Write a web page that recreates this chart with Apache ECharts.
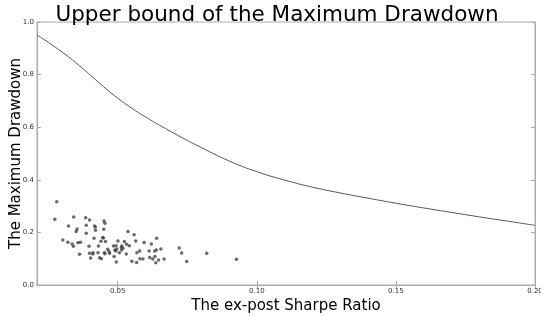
<!DOCTYPE html>
<html>
<head>
<meta charset="utf-8">
<script src="https://cdn.jsdelivr.net/npm/echarts@6/dist/echarts.min.js"></script>
<style>
  html, body { margin: 0; padding: 0; background: #fff; }
  #main { width: 541px; height: 317px; }
</style>
</head>
<body>
<div id="main"></div>
<script>
// upper bound curve
const boundX = [0.021, 0.030, 0.036, 0.042, 0.048, 0.054, 0.060, 0.066, 0.073, 0.080, 0.090, 0.100, 0.110, 0.120, 0.130, 0.140, 0.150, 0.160, 0.170, 0.180, 0.190, 0.200];
const boundY = [0.951, 0.886, 0.836, 0.781, 0.727, 0.680, 0.639, 0.602, 0.561, 0.523, 0.472, 0.431, 0.399, 0.372, 0.350, 0.330, 0.311, 0.293, 0.276, 0.259, 0.243, 0.227];

// observed funds: sharpe ratio vs max drawdown
const sharpe = [
  0.0281, 0.0274, 0.0303, 0.0323, 0.0321, 0.0336, 0.0342, 0.0341, 0.0351, 0.0354,
  0.0357, 0.0366, 0.0363, 0.0385, 0.0399, 0.0387, 0.0387, 0.0397, 0.0399, 0.0403,
  0.0411, 0.0417, 0.0420, 0.0420, 0.0415, 0.0411, 0.0429, 0.0431, 0.0435, 0.0441,
  0.0440, 0.0446, 0.0451, 0.0454, 0.0450, 0.0449, 0.0456, 0.0452, 0.0454, 0.0464,
  0.0469, 0.0471, 0.0485, 0.0487, 0.0490, 0.0494, 0.0493, 0.0495, 0.0501, 0.0506,
  0.0497, 0.0513, 0.0514, 0.0519, 0.0515, 0.0524, 0.0532, 0.0531, 0.0537, 0.0542,
  0.0551, 0.0559, 0.0565, 0.0568, 0.0569, 0.0579, 0.0580, 0.0591, 0.0595, 0.0613,
  0.0615, 0.0621, 0.0626, 0.0634, 0.0633, 0.0640, 0.0639, 0.0637, 0.0647, 0.0655,
  0.0667, 0.0721, 0.0730, 0.0748, 0.0820, 0.0927
];
const drawdown = [
  0.317, 0.250, 0.171, 0.224, 0.163, 0.156, 0.259, 0.147, 0.203, 0.213,
  0.161, 0.163, 0.117, 0.256, 0.247, 0.227, 0.197, 0.147, 0.121, 0.103,
  0.118, 0.224, 0.221, 0.208, 0.178, 0.123, 0.123, 0.148, 0.104, 0.100,
  0.166, 0.181, 0.243, 0.235, 0.212, 0.179, 0.165, 0.123, 0.119, 0.136,
  0.127, 0.121, 0.148, 0.108, 0.133, 0.149, 0.129, 0.087, 0.167, 0.123,
  0.137, 0.143, 0.133, 0.140, 0.148, 0.165, 0.155, 0.118, 0.203, 0.149,
  0.090, 0.191, 0.167, 0.086, 0.123, 0.129, 0.100, 0.099, 0.162, 0.129,
  0.105, 0.156, 0.099, 0.108, 0.129, 0.178, 0.133, 0.085, 0.095, 0.137,
  0.099, 0.141, 0.122, 0.089, 0.121, 0.098
];

const xTicks = [0.05, 0.10, 0.15, 0.20];

const font = 'DejaVu Sans';
const chart = echarts.init(document.getElementById('main'));

const tickLabel = { fontFamily: font, fontSize: 7, color: '#333' };

chart.setOption({
  animation: false,
  title: {
    text: 'Upper bound of the Maximum Drawdown',
    left: 272, top: -1, textAlign: 'center',
    textStyle: { fontFamily: font, fontSize: 21.5, fontWeight: 'normal', color: '#000' }
  },
  grid: {
    left: 37, right: 6, top: 22, bottom: 32,
    outerBoundsMode: 'none', containLabel: false,
    show: true, borderColor: '#aaa', borderWidth: 1
  },
  xAxis: [{
    type: 'value', min: 0.021, max: 0.20,
    name: 'The ex-post Sharpe Ratio', nameLocation: 'middle', nameGap: 14, nameMoveOverlap: false,
    nameTextStyle: { fontFamily: font, fontSize: 15, color: '#000' },
    axisLine: { lineStyle: { color: '#aaa' } },
    axisTick: { inside: true, length: 4, customValues: xTicks, lineStyle: { color: '#aaa' } },
    axisLabel: { ...tickLabel, margin: 3, customValues: xTicks, formatter: v => v.toFixed(2) },
    splitLine: { show: false }
  }, {
    type: 'value', min: 0.021, max: 0.20, position: 'top',
    axisLine: { lineStyle: { color: '#aaa' } },
    axisTick: { inside: true, length: 4, customValues: xTicks, lineStyle: { color: '#aaa' } },
    axisLabel: { show: false }, splitLine: { show: false }
  }],
  yAxis: [{
    type: 'value', min: 0, max: 1, interval: 0.2,
    name: 'The Maximum Drawdown', nameLocation: 'middle', nameGap: 13, nameMoveOverlap: false,
    nameTextStyle: { fontFamily: font, fontSize: 15, color: '#000' },
    axisLine: { show: true, lineStyle: { color: '#aaa' } },
    axisTick: { show: true, inside: true, length: 4, lineStyle: { color: '#aaa' } },
    axisLabel: { ...tickLabel, margin: 3, formatter: v => v.toFixed(1) },
    splitLine: { show: false }
  }, {
    type: 'value', min: 0, max: 1, interval: 0.2, position: 'right',
    axisLine: { show: true, lineStyle: { color: '#aaa' } },
    axisTick: { show: true, inside: true, length: 4, lineStyle: { color: '#aaa' } },
    axisLabel: { show: false }, splitLine: { show: false }
  }],
  series: [{
    type: 'line',
    data: boundX.map((x, i) => [x, boundY[i]]),
    smooth: 0.5, showSymbol: false,
    lineStyle: { color: '#555', width: 1 }
  }, {
    type: 'scatter',
    data: sharpe.map((x, i) => [x, drawdown[i]]),
    symbolSize: 3.5,
    itemStyle: { color: '#444' }
  }]
});
</script>
</body>
</html>
